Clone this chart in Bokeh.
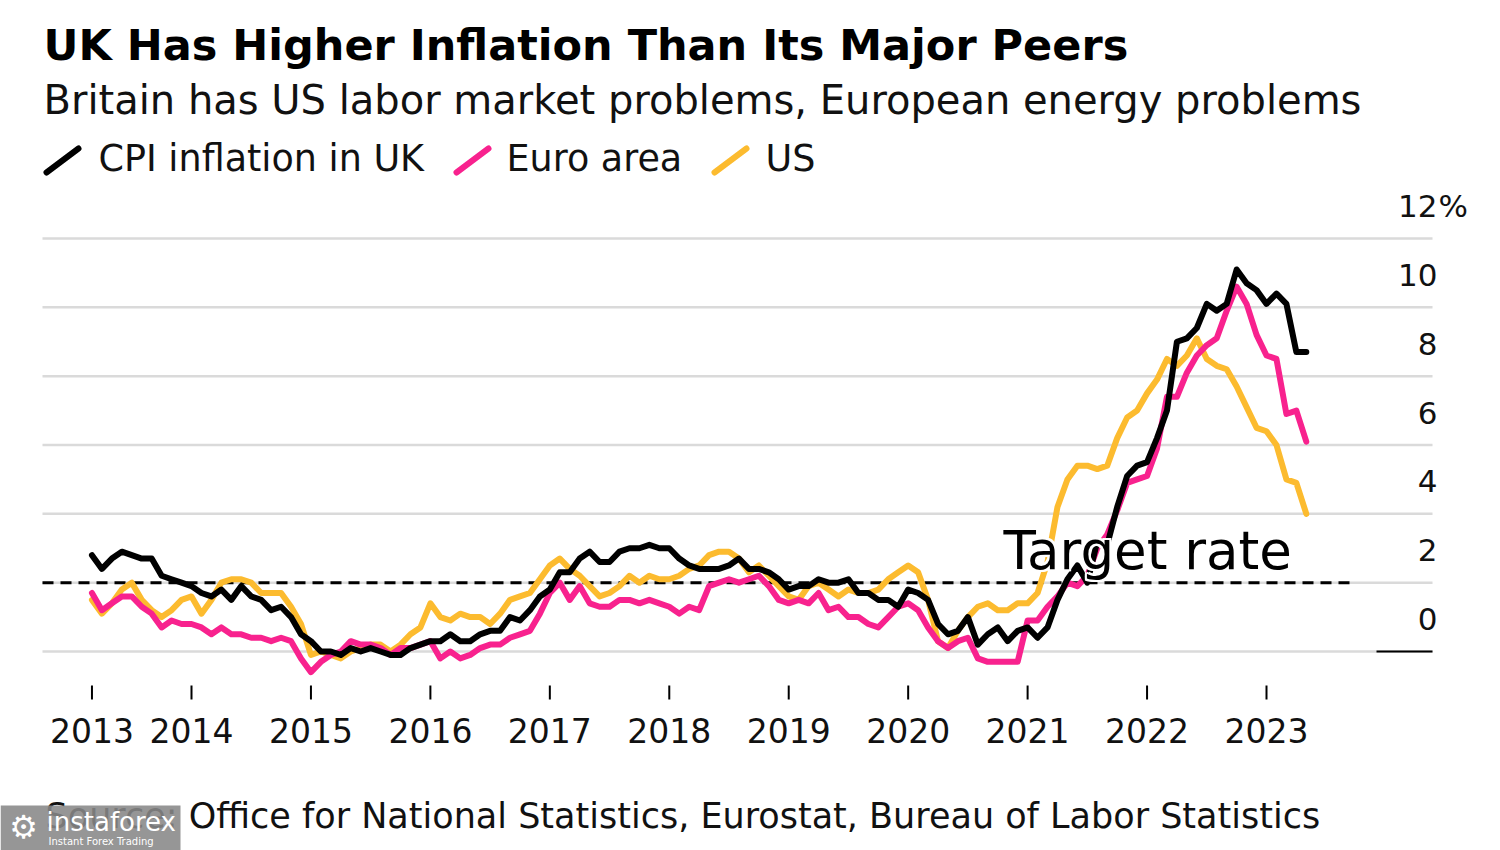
from bokeh.plotting import figure
from bokeh.models import Range1d
from bokeh.core.properties import value
from bokeh.embed import file_html
from bokeh.resources import INLINE

# ---------------- data (monthly annual inflation rate, %) ----------------
start_year = 2013
start_month = 3  # first observation: March 2013, last: May 2023

uk_cpi = [
    2.8, 2.4, 2.7, 2.9, 2.8, 2.7, 2.7, 2.2, 2.1, 2.0,                 # 2013 Mar-Dec
    1.9, 1.7, 1.6, 1.8, 1.5, 1.9, 1.6, 1.5, 1.2, 1.3, 1.0, 0.5,       # 2014
    0.3, 0.0, 0.0, -0.1, 0.1, 0.0, 0.1, 0.0, -0.1, -0.1, 0.1, 0.2,    # 2015
    0.3, 0.3, 0.5, 0.3, 0.3, 0.5, 0.6, 0.6, 1.0, 0.9, 1.2, 1.6,       # 2016
    1.8, 2.3, 2.3, 2.7, 2.9, 2.6, 2.6, 2.9, 3.0, 3.0, 3.1, 3.0,       # 2017
    3.0, 2.7, 2.5, 2.4, 2.4, 2.4, 2.5, 2.7, 2.4, 2.4, 2.3, 2.1,       # 2018
    1.8, 1.9, 1.9, 2.1, 2.0, 2.0, 2.1, 1.7, 1.7, 1.5, 1.5, 1.3,       # 2019
    1.8, 1.7, 1.5, 0.8, 0.5, 0.6, 1.0, 0.2, 0.5, 0.7, 0.3, 0.6,       # 2020
    0.7, 0.4, 0.7, 1.5, 2.1, 2.5, 2.0, 3.2, 3.1, 4.2, 5.1, 5.4,       # 2021
    5.5, 6.2, 7.0, 9.0, 9.1, 9.4, 10.1, 9.9, 10.1, 11.1, 10.7, 10.5,  # 2022
    10.1, 10.4, 10.1, 8.7, 8.7,                                       # 2023 Jan-May
]

euro_area = [
    1.7, 1.2, 1.4, 1.6, 1.6, 1.3, 1.1, 0.7, 0.9, 0.8,
    0.8, 0.7, 0.5, 0.7, 0.5, 0.5, 0.4, 0.4, 0.3, 0.4, 0.3, -0.2,
    -0.6, -0.3, -0.1, 0.0, 0.3, 0.2, 0.2, 0.1, -0.1, 0.1, 0.1, 0.2,
    0.3, -0.2, 0.0, -0.2, -0.1, 0.1, 0.2, 0.2, 0.4, 0.5, 0.6, 1.1,
    1.7, 2.0, 1.5, 1.9, 1.4, 1.3, 1.3, 1.5, 1.5, 1.4, 1.5, 1.4,
    1.3, 1.1, 1.3, 1.2, 1.9, 2.0, 2.1, 2.0, 2.1, 2.2, 1.9, 1.5,
    1.4, 1.5, 1.4, 1.7, 1.2, 1.3, 1.0, 1.0, 0.8, 0.7, 1.0, 1.3,
    1.4, 1.2, 0.7, 0.3, 0.1, 0.3, 0.4, -0.2, -0.3, -0.3, -0.3, -0.3,
    0.9, 0.9, 1.3, 1.6, 2.0, 1.9, 2.2, 3.0, 3.4, 4.1, 4.9, 5.0,
    5.1, 5.9, 7.4, 7.4, 8.1, 8.6, 8.9, 9.1, 9.9, 10.6, 10.1, 9.2,
    8.6, 8.5, 6.9, 7.0, 6.1,
]

us_cpi = [
    1.5, 1.1, 1.4, 1.8, 2.0, 1.5, 1.2, 1.0, 1.2, 1.5,
    1.6, 1.1, 1.5, 2.0, 2.1, 2.1, 2.0, 1.7, 1.7, 1.7, 1.3, 0.8,
    -0.1, 0.0, -0.1, -0.2, 0.0, 0.1, 0.2, 0.2, 0.0, 0.2, 0.5, 0.7,
    1.4, 1.0, 0.9, 1.1, 1.0, 1.0, 0.8, 1.1, 1.5, 1.6, 1.7, 2.1,
    2.5, 2.7, 2.4, 2.2, 1.9, 1.6, 1.7, 1.9, 2.2, 2.0, 2.2, 2.1,
    2.1, 2.2, 2.4, 2.5, 2.8, 2.9, 2.9, 2.7, 2.3, 2.5, 2.2, 1.9,
    1.6, 1.5, 1.9, 2.0, 1.8, 1.6, 1.8, 1.7, 1.7, 1.8, 2.1, 2.3,
    2.5, 2.3, 1.5, 0.3, 0.1, 0.6, 1.0, 1.3, 1.4, 1.2, 1.2, 1.4,
    1.4, 1.7, 2.6, 4.2, 5.0, 5.4, 5.4, 5.3, 5.4, 6.2, 6.8, 7.0,
    7.5, 7.9, 8.5, 8.3, 8.6, 9.1, 8.5, 8.3, 8.2, 7.7, 7.1, 6.5,
    6.4, 6.0, 5.0, 4.9, 4.0,
]

series_names = ["CPI inflation in UK", "Euro area", "US"]
series_colors = ["#000000", "#f8228e", "#fcbb2f"]

target_rate = 2.0
y_tick_values = [0, 2, 4, 6, 8, 10, 12]
y_tick_labels = ["0", "2", "4", "6", "8", "10", "12"]
x_tick_labels = ["2013", "2014", "2015", "2016", "2017", "2018",
                 "2019", "2020", "2021", "2022", "2023"]
# first tick sits on the first observation, the others on January
x_tick_values = [start_year + (start_month - 1) / 12] + [float(y) for y in range(2014, 2024)]

title = "UK Has Higher Inflation Than Its Major Peers"
subtitle = "Britain has US labor market problems, European energy problems"
source = "Source: Office for National Statistics, Eurostat, Bureau of Labor Statistics"

# ---------------- layout helpers (pixel -> data) ----------------
W, H = 1500, 850
PX_PER_YEAR = (1266 - 191) / 9.0
X_START = 2014.0 - 191 / PX_PER_YEAR
X_END = X_START + W / PX_PER_YEAR
PX_PER_UNIT = (651 - 238) / 12.0
Y_END = 651 / PX_PER_UNIT
Y_START = Y_END - H / PX_PER_UNIT


def X(px):
    return X_START + px / PX_PER_YEAR


def Y(py):
    return Y_END - py / PX_PER_UNIT


def YB(baseline_px, size):
    # baseline correction for the renderer's text placement
    return Y(baseline_px - 0.4 * size)


FONT = value("DejaVu Sans")

n = len(uk_cpi)
xs = [start_year + (start_month - 1 + i) / 12.0 for i in range(n)]

p = figure(width=W, height=H, x_range=Range1d(X_START, X_END),
           y_range=Range1d(Y_START, Y_END), output_backend="svg",
           toolbar_location=None, x_axis_type=None, y_axis_type=None,
           min_border=0, outline_line_color=None)
p.background_fill_color = "white"
p.border_fill_color = "white"

# grid lines
p.segment(x0=X(42), x1=X(1432), y0=y_tick_values, y1=y_tick_values,
          line_color="#dadada", line_width=2.5)
p.segment(x0=[X(1376)], x1=[X(1432)], y0=[0], y1=[0], line_color="black", line_width=2)
# target line
p.line([X(42), X(1356)], [target_rate, target_rate], line_color="black",
       line_width=3, line_dash="11 7")

# x ticks & labels
p.segment(x0=x_tick_values, x1=x_tick_values, y0=Y(685), y1=Y(699),
          line_color="black", line_width=2)
p.text(x=x_tick_values, y=YB(743, 33), text=x_tick_labels, text_font=FONT,
       text_font_size="33px", text_align="center", text_baseline="alphabetic",
       text_color="#111111")

# y labels (sitting above their grid lines)
lab_px = 20
p.text(x=X(1437), y=[v + (lab_px + 0.4 * 31) / PX_PER_UNIT for v in y_tick_values],
       text=y_tick_labels, text_font=FONT, text_font_size="31px", text_align="right",
       text_baseline="alphabetic", text_color="#111111")
p.text(x=[X(1438)], y=[y_tick_values[-1] + (lab_px + 0.4 * 31) / PX_PER_UNIT], text=["%"],
       text_font=FONT, text_font_size="31px", text_align="left",
       text_baseline="alphabetic", text_color="#111111")

# series lines (US bottom, UK top)
for vals, col in [(us_cpi, series_colors[2]), (euro_area, series_colors[1]),
                  (uk_cpi, series_colors[0])]:
    p.line(xs, vals, line_color=col, line_width=6, line_join="round", line_cap="round")

# target label with white halo
for dx, dy in [(-2, 0), (2, 0), (0, -2), (0, 2), (-2, -2), (2, 2), (-2, 2), (2, -2)]:
    p.text(x=[X(1003)], y=[YB(571, 53)], text=["Target rate"], text_font=FONT,
           text_font_size="53px", text_color="white", text_baseline="alphabetic",
           x_offset=dx, y_offset=dy)
p.text(x=[X(1003)], y=[YB(571, 53)], text=["Target rate"], text_font=FONT,
       text_font_size="53px", text_color="black", text_baseline="alphabetic")

# title & subtitle
p.text(x=[X(43)], y=[YB(62, 43)], text=[title], text_font=FONT, text_font_style="bold",
       text_font_size="43px", text_baseline="alphabetic", text_color="black")
p.text(x=[X(43)], y=[YB(115, 40)], text=[subtitle], text_font=FONT,
       text_font_size="40px", text_baseline="alphabetic", text_color="#111111")

# legend
leg_px = [(46, 98), (456, 506), (714, 765)]
for (sx, tx), name, col in zip(leg_px, series_names, series_colors):
    p.segment(x0=[X(sx)], y0=[Y(172)], x1=[X(sx + 32)], y1=[Y(148)],
              line_color=col, line_width=6, line_cap="round")
    p.text(x=[X(tx)], y=[YB(173, 36.5)], text=[name], text_font=FONT,
           text_font_size="36.5px", text_baseline="alphabetic", text_color="#111111")

# source
p.text(x=[X(45)], y=[YB(829, 35)], text=[source], text_font=FONT,
       text_font_size="35px", text_baseline="alphabetic", text_color="#111111")

# watermark box
p.quad(left=[X(0)], right=[X(180)], top=[Y(805)], bottom=[Y(850)],
       fill_color="#888888", fill_alpha=0.88, line_color=None)
p.text(x=[X(23)], y=[Y(826)], text=["\u2699"], text_font=FONT, text_font_size="32px",
       text_color="white", text_align="center", text_baseline="middle")
p.text(x=[X(46)], y=[YB(832, 26)], text=["instaforex"], text_font=FONT,
       text_font_size="26px", text_color="white", text_baseline="alphabetic")
p.text(x=[X(48)], y=[YB(845, 10)], text=["Instant Forex Trading"], text_font=FONT,
       text_font_size="10px", text_color="white", text_baseline="alphabetic")

open("out.html", "w").write(file_html(p, INLINE))
